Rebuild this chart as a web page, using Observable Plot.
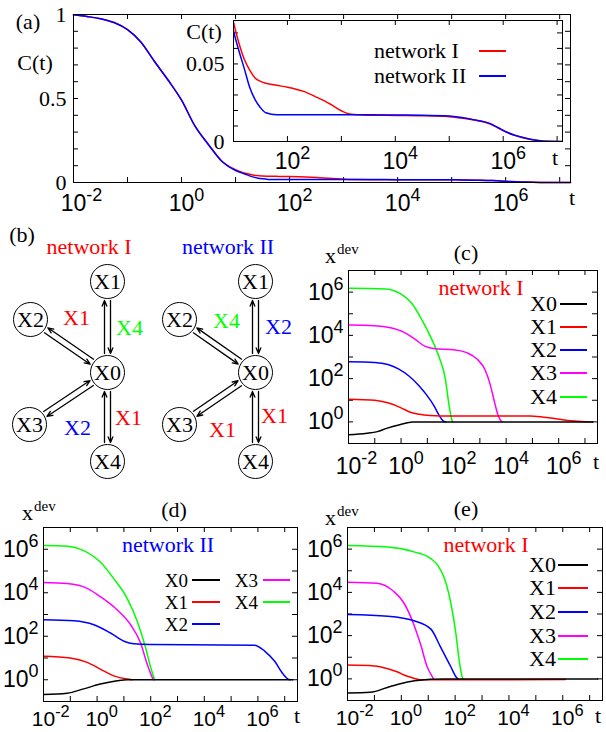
<!DOCTYPE html>
<html>
<head>
<meta charset="utf-8">
<script src="https://cdn.jsdelivr.net/npm/d3@7"></script>
<script src="https://cdn.jsdelivr.net/npm/@observablehq/plot@0.6"></script>
<style>
  html,body{margin:0;padding:0;background:#fff;}
  #fig{position:relative;width:606px;height:732px;overflow:hidden;background:#fff;}
  #fig svg{position:absolute;overflow:visible;}
  .lbl{position:absolute;white-space:nowrap;line-height:1;color:#000;}
  .key{position:absolute;height:2px;}
</style>
</head>
<body>
<div id="fig"></div>
<script>
const SERIF = '"Liberation Serif","Times New Roman",serif';
const SANS = '"Liberation Sans",Arial,Helvetica,sans-serif';

// ---------------- Panel (a): C(t) ----------------
const aLogT = [-2,-1.75,-1.5,-1.25,-1,-0.75,-0.5,-0.25,0,0.25,0.5,0.75,
  1,1.1,1.2,1.3,1.4,1.5,1.6,1.8,
  2,2.3,2.55,2.8,3,3.15,3.5,
  4,4.5,5,5.2,5.45,5.75,
  5.9,6.05,6.2,6.35,6.5,6.65,6.8,7,7.2];
const aNetI = [0.998,0.988,0.975,0.952,0.91,0.835,0.72,0.61,0.49,0.335,0.225,0.125,
  0.077,0.0635,0.053,0.046,0.041,0.0388,0.0376,0.0362,
  0.035,0.0323,0.0284,0.024,0.0198,0.0178,0.017,
  0.0168,0.0166,0.016,0.0152,0.0139,0.0114,
  0.0088,0.0062,0.0041,0.0026,0.0014,0.0006,0.0001,0,0];
const aNetII = [0.998,0.988,0.975,0.952,0.91,0.835,0.72,0.61,0.49,0.335,0.225,0.125,
  0.0714,0.0585,0.047,0.035,0.027,0.0218,0.0185,0.0172,
  0.0172,0.0172,0.0172,0.0172,0.0172,0.0172,0.0172,
  0.0171,0.017,0.0164,0.0156,0.0141,0.0117,
  0.009,0.0063,0.0042,0.0027,0.0015,0.0006,0.0001,0,0];
const aXTickExp = [-2,0,2,4,6];
const aYTickLabels = [0,0.5,1];
const insetXTickExp = [2,4,6];
const insetYTickLabels = [0,0.05];
const netNames = ["network I","network II"];
const netColors = ["#ff0000","#0000ff"];

// ---------------- Panels (c)(d)(e): [log10 t, log10 x_dev] ----------------
const varNames = ["X0","X1","X2","X3","X4"];
const varColors = ["#000000","#ff0000","#0000ff","#ff00ff","#00ff00"];

const cX0 = [[-2,-0.6],[-1.3,-0.53],[-0.9,-0.45],[-0.55,-0.3],[-0.05,-0.13],[0.45,0],[7.3,0]];
const cX1 = [[-2,1.05],[-1,1.0],[-0.5,0.88],[0,0.65],[0.3,0.47],[0.7,0.35],[1.1,0.29],[1.5,0.27],[4.9,0.27],[5.3,0.24],[5.7,0.18],[6.1,0.11],[6.5,0.05],[7.0,0.01],[7.3,0]];
const cX2 = [[-2,2.78],[-1,2.75],[-0.5,2.65],[-0.1,2.45],[0.3,2.12],[0.7,1.65],[1.0,1.2],[1.25,0.75],[1.45,0.3],[1.6,0.05],[1.7,0]];
const cX3 = [[-2,4.48],[-1,4.45],[-0.4,4.35],[0.1,4.15],[0.5,3.85],[0.9,3.5],[1.3,3.38],[2.0,3.34],[2.5,3.2],[2.9,2.9],[3.2,2.4],[3.4,1.7],[3.55,0.95],[3.68,0.35],[3.8,0.05],[3.85,0]];
const cX4 = [[-2,6.18],[-0.6,6.15],[-0.06,5.95],[0.44,5.43],[0.81,4.68],[1.13,3.92],[1.44,3.02],[1.69,1.97],[1.81,0.9],[1.94,0.07],[1.97,0]];

const dX0 = [[-2,-0.68],[-1.12,-0.62],[-0.5,-0.42],[0.12,-0.2],[0.75,-0.05],[1.12,0],[7.3,0]];
const dX1 = [[-2,1.08],[-1,1.0],[-0.37,0.8],[0.12,0.49],[0.62,0.18],[1.12,0.03],[1.3,0]];
const dX2 = [[-2,2.76],[-0.87,2.71],[-0.12,2.53],[0.5,2.15],[1.0,1.77],[1.37,1.65],[2.0,1.62],[5.87,1.59],[6.25,1.32],[6.62,0.86],[6.94,0.26],[7.12,0.03],[7.2,0]];
const dX3 = [[-2,4.47],[-1.12,4.42],[-0.37,4.2],[0.12,3.82],[0.75,3.21],[1.25,2.53],[1.62,1.7],[1.87,0.71],[2.06,0.1],[2.1,0]];
const dX4 = [[-2,6.17],[-1.12,6.14],[-0.5,5.94],[0.12,5.41],[0.62,4.65],[1.12,3.74],[1.5,2.68],[1.81,1.47],[2.0,0.56],[2.12,0.1],[2.15,0]];

const eX0 = [[-2,-0.65],[-1.16,-0.62],[-0.41,-0.35],[0.34,-0.12],[1.09,-0.02],[1.6,0],[7.3,0]];
const eX1 = [[-2,0.64],[-1,0.6],[-0.5,0.47],[-0.16,0.33],[0.2,0.13],[0.46,0.03],[0.71,-0.04],[1.5,-0.04],[6.1,-0.03]];
const eX2 = [[-2,2.98],[-0.5,2.9],[0.5,2.68],[1.1,2.3],[1.46,1.47],[1.84,0.56],[2.03,0.1],[2.1,0]];
const eX3 = [[-2,4.47],[-0.91,4.42],[-0.29,4.05],[0.09,3.52],[0.46,2.53],[0.71,1.62],[0.96,0.56],[1.15,0.1],[1.2,0]];
const eX4 = [[-2,6.17],[-0.5,6.1],[0.5,5.86],[1.1,5.56],[1.35,5.26],[1.6,4.65],[1.85,3.44],[2.03,2.08],[2.15,0.86],[2.28,0.03],[2.3,0]];

const xdevXTickExp = [-2,0,2,4,6];
const xdevYTickExp = [0,2,4,6];

// ---------------- Panel (b): reaction network diagrams ----------------
const nodeNames = ["X0","X1","X2","X3","X4"];
const netIx = [107,107,30,29,107];
const netIy = [147,56,94,199,236];
const netIIx = [255,255,179,179,255];
const netIIy = [147,56,94,199,236];
const outSide = [-1,1,-1,-1];           // side of the X0->Xi arrow, for X1..X4
const edgeLabelText  = ["X1","X4","X2","X1", "X4","X2","X1","X1"];
const edgeLabelColor = ["#ff0000","#00ff00","#0000ff","#ff0000", "#00ff00","#0000ff","#ff0000","#ff0000"];
const edgeLabelX = [76,129,77,128, 226,278,222,274];
const edgeLabelY = [92,102,202,192, 95,101,204,190];

// ---------------- helpers ----------------
const fig = document.getElementById("fig");
function place(el, left, top){ el.style.left = left+"px"; el.style.top = top+"px"; fig.appendChild(el); }
function label(html, x, y, {size=22, color="#000", anchor="middle", family=SERIF}={}) {
  const d = document.createElement("div");
  d.className = "lbl";
  d.innerHTML = html;
  d.style.left = x+"px"; d.style.top = y+"px";
  d.style.fontSize = size+"px"; d.style.color = color; d.style.fontFamily = family;
  const tx = anchor==="middle" ? "-50%" : anchor==="end" ? "-100%" : "0";
  d.style.transform = `translate(${tx},-50%)`;
  fig.appendChild(d);
}
function keyLine(x1, x2, y, color){
  const d = document.createElement("div");
  d.className = "key";
  d.style.left = x1+"px"; d.style.top = (y-1)+"px"; d.style.width = (x2-x1)+"px"; d.style.background = color;
  fig.appendChild(d);
}
function supify(svg){
  d3.select(svg).selectAll("text").each(function(){
    if (this.querySelector("tspan")) return;
    const t = this.textContent, k = t.indexOf("^");
    if (k < 0) return;
    const s = d3.select(this);
    s.text(null);
    s.append("tspan").text(t.slice(0,k));
    s.append("tspan").attr("dy","-0.55em").attr("font-size","0.78em").text(t.slice(k+1));
  });
  d3.select(svg).selectAll('g[aria-label="x-axis tick label"] text').attr("text-anchor","start").attr("dx","-0.556em");
}
function frameTicks(xVals, yVals, innerW, innerH, len=5){
  return [
    Plot.tickX(xVals, {x: d=>d, insetTop: innerH-len, stroke:"black"}),
    Plot.tickX(xVals, {x: d=>d, insetBottom: innerH-len, stroke:"black"}),
    Plot.tickY(yVals, {y: d=>d, insetRight: innerW-len, stroke:"black"}),
    Plot.tickY(yVals, {y: d=>d, insetLeft: innerW-len, stroke:"black"})
  ];
}
const pow10 = e => 10**e;
const expFmt = d => "10^" + Math.round(Math.log10(d));
const TICKFS = 23;

// ---------------- draw panel (a) ----------------
const aRows = [aNetI, aNetII].map(vals => aLogT.map((e,i)=>({t:10**e, c:vals[i]})));
{
  const W=606, H=214, ml=73, mr=36, mt=14, mb=32;
  const svg = Plot.plot({
    width:W, height:H, marginLeft:ml, marginRight:mr, marginTop:mt, marginBottom:mb,
    style:{background:"transparent", overflow:"visible"},
    x:{type:"log", domain:[1e-2, 10**7.2]},
    y:{domain:[0,1]},
    marks:[
      ...frameTicks(d3.range(-2,8).map(pow10), d3.range(0,11).map(i=>i/10), W-ml-mr, H-mt-mb),
      Plot.line(aRows[0], {x:"t", y:"c", stroke:netColors[0], strokeWidth:1.5, curve:"monotone-x"}),
      Plot.line(aRows[1], {x:"t", y:"c", stroke:netColors[1], strokeWidth:1.5, curve:"monotone-x"}),
      Plot.frame({stroke:"black"}),
      Plot.axisX({ticks:aXTickExp.map(pow10), tickSize:0, tickPadding:12, tickFormat:expFmt, fontSize:TICKFS, fontFamily:SANS, label:null}),
      Plot.axisY({ticks:aYTickLabels, tickSize:0, tickPadding:7, tickFormat:d=>String(d), fontSize:22, fontFamily:SERIF, label:null})
    ]
  });
  supify(svg); place(svg, 0, 0);
}
// inset
{
  const W=406, H=180, ml=33, mr=44, mt=20, mb=39;
  const svg = Plot.plot({
    width:W, height:H, marginLeft:ml, marginRight:mr, marginTop:mt, marginBottom:mb,
    style:{background:"transparent", overflow:"visible"},
    x:{type:"log", domain:[10, 10**7.1]},
    y:{domain:[0,0.078]},
    marks:[
      Plot.frame({fill:"white"}),
      ...frameTicks(d3.range(1,8).map(pow10), d3.range(0,8).map(i=>i/100), W-ml-mr, H-mt-mb),
      Plot.line(aRows[0], {x:"t", y:"c", stroke:netColors[0], strokeWidth:1.5, curve:"monotone-x", clip:true}),
      Plot.line(aRows[1], {x:"t", y:"c", stroke:netColors[1], strokeWidth:1.5, curve:"monotone-x", clip:true}),
      Plot.frame({stroke:"black"}),
      Plot.axisX({ticks:insetXTickExp.map(pow10), tickSize:0, tickPadding:11, tickFormat:expFmt, fontSize:TICKFS, fontFamily:SANS, label:null}),
      Plot.axisY({ticks:insetYTickLabels, tickSize:0, tickPadding:9, tickFormat:d=>String(d), fontSize:22, fontFamily:SERIF, label:null})
    ]
  });
  supify(svg); place(svg, 200, 0);
}
label("(a)", 28, 22);
label("C(t)", 35, 63);
label("t", 572, 198);
label("C(t)", 204, 32);
label("t", 555, 158);
label(netNames[0], 374, 51, {anchor:"start"});
label(netNames[1], 374, 76, {anchor:"start"});
keyLine(479, 506, 51, netColors[0]);
keyLine(479, 506, 76, netColors[1]);

// ---------------- draw panel (b) ----------------
{
  const nets = [[netIx, netIy], [netIIx, netIIy]];
  const nodes = nets.flatMap(([xs, ys]) => nodeNames.map((n,i)=>({name:n, x:xs[i], y:ys[i]})));
  const arrows = [];
  nets.forEach(([xs, ys]) => {
    for (let i=1;i<5;i++){
      const dx = xs[i]-xs[0], dy = ys[i]-ys[0], L = Math.hypot(dx,dy);
      const ux = dx/L, uy = dy/L, nx = -uy, ny = ux;
      const off = 3, sh = 19, s = outSide[i-1];
      arrows.push({x1: xs[0]+ux*sh+s*off*nx, y1: ys[0]+uy*sh+s*off*ny, x2: xs[i]-ux*sh+s*off*nx, y2: ys[i]-uy*sh+s*off*ny});
      arrows.push({x1: xs[i]-ux*sh-s*off*nx, y1: ys[i]-uy*sh-s*off*ny, x2: xs[0]+ux*sh-s*off*nx, y2: ys[0]+uy*sh-s*off*ny});
    }
  });
  const elabels = edgeLabelText.map((t,i)=>({text:t, color:edgeLabelColor[i], x:edgeLabelX[i], y:edgeLabelY[i]}));
  const svg = Plot.plot({
    width:300, height:275, margin:0,
    style:{background:"transparent", overflow:"visible"},
    x:{type:"identity", axis:null}, y:{type:"identity", axis:null}, color:{type:"identity"},
    marks:[
      Plot.arrow(arrows, {x1:"x1", y1:"y1", x2:"x2", y2:"y2", stroke:"black", strokeWidth:1.3, headLength:7, headAngle:45}),
      Plot.dot(nodes, {x:"x", y:"y", r:17, stroke:"black", fill:"white", strokeWidth:1}),
      Plot.text(nodes, {x:"x", y:"y", text:"name", fontSize:22, fontFamily:SERIF, fill:"black"}),
      Plot.text(elabels, {x:"x", y:"y", text:"text", fill:"color", fontSize:22, fontFamily:SERIF})
    ]
  });
  place(svg, 0, 225);
}
label("(b)", 22, 235);
label(netNames[0], 89, 247, {color:"#ff0000"});
label(netNames[1], 228, 247, {color:"#0000ff"});

// ---------------- draw panels (c)(d)(e) ----------------
function xdevPanel(series, box){
  const {left, top, W, H, ml, mr, mt, mb, xpad, xfs} = box;
  const marks = [...frameTicks(d3.range(-2,8).map(pow10), d3.range(0,7).map(pow10), W-ml-mr, H-mt-mb)];
  [4,3,2,1,0].forEach(i => {
    marks.push(Plot.line(series[i], {x:p=>10**p[0], y:p=>10**p[1], stroke:varColors[i], strokeWidth:1.5, curve:"monotone-x", clip:true}));
  });
  marks.push(Plot.frame({stroke:"black"}));
  marks.push(Plot.axisX({ticks:xdevXTickExp.map(pow10), tickSize:0, tickPadding:xpad, tickFormat:expFmt, fontSize:xfs, fontFamily:SANS, label:null}));
  marks.push(Plot.axisY({ticks:xdevYTickExp.map(pow10), tickSize:0, tickPadding:5, tickFormat:expFmt, fontSize:TICKFS, fontFamily:SANS, label:null}));
  const svg = Plot.plot({
    width:W, height:H, marginLeft:ml, marginRight:mr, marginTop:mt, marginBottom:mb,
    style:{background:"transparent", overflow:"visible"},
    x:{type:"log", domain:[1e-2, 3e7]},
    y:{type:"log", domain:[0.1, 1e7]},
    marks
  });
  supify(svg); place(svg, left, top);
}
const devHtml = 'x<span style="font-size:15px;position:relative;top:-9px;margin-left:1px">dev</span>';

// (c)
xdevPanel([cX0,cX1,cX2,cX3,cX4], {left:300, top:250, W:306, H:225, ml:48, mr:9, mt:20, mb:32, xpad:14, xfs:TICKFS});
label(devHtml, 325, 256, {anchor:"start"});
label("(c)", 466, 253);
label(netNames[0], 481, 288, {color:"#ff0000"});
label("t", 596, 462);
[304,327,350,373,397].forEach((y,i)=>{ label(varNames[i], 557, y, {anchor:"end"}); keyLine(560, 587, y, varColors[i]); });

// (d)
xdevPanel([dX0,dX1,dX2,dX3,dX4], {left:0, top:500, W:303, H:232, ml:43, mr:6, mt:27, mb:31, xpad:10, xfs:21});
label(devHtml, 22, 513, {anchor:"start"});
label("(d)", 174, 510);
label(netNames[1], 168, 545, {color:"#0000ff"});
label("t", 297, 716);
[[0,188,192,220,580],[1,188,192,220,602],[2,188,192,220,624],[3,258,263,290,580],[4,258,263,290,602]].forEach(([i,tx,x1,x2,y])=>{
  label(varNames[i], tx, y, {anchor:"end", size:19}); keyLine(x1, x2, y, varColors[i]);
});

// (e)
xdevPanel([eX0,eX1,eX2,eX3,eX4], {left:303, top:500, W:303, H:232, ml:44, mr:4, mt:27, mb:32, xpad:10, xfs:21});
label(devHtml, 325, 518, {anchor:"start"});
label("(e)", 466, 509);
label(netNames[0], 486, 545, {color:"#ff0000"});
label("t", 598, 716);
[565,588,612,636,659].forEach((y,i)=>{ label(varNames[i], 556, y, {anchor:"end"}); keyLine(558, 588, y, varColors[i]); });
</script>
</body>
</html>
